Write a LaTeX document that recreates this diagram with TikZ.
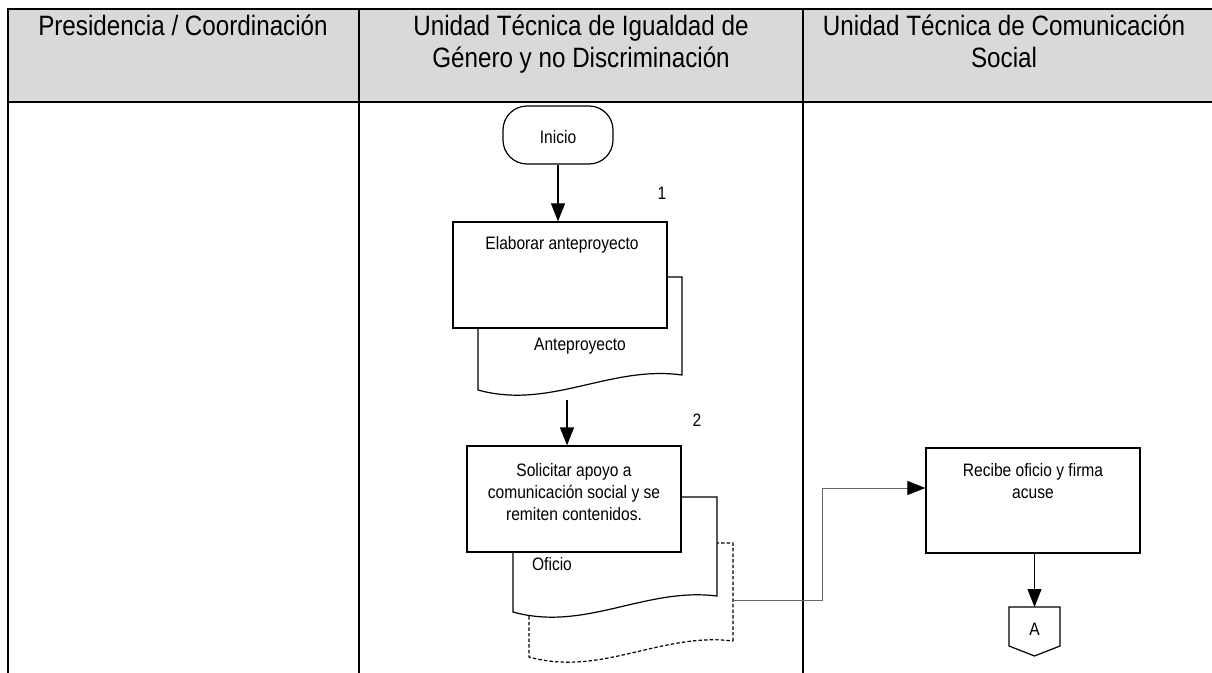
\documentclass[tikz,border=0pt]{standalone}
\usepackage{fontspec}
\setmainfont{Liberation Sans}[FakeStretch=0.865]
\usetikzlibrary{arrows.meta,fit}
\definecolor{hdrgray}{HTML}{D9D9D9}
\definecolor{linkgray}{HTML}{666666}
\begin{document}
\begin{tikzpicture}[x=0.75pt,y=-0.75pt,
  tbl/.style={line width=1.9pt},
  box/.style={draw=black,line width=0.9pt,fill=white,inner sep=0pt},
  doc/.style={draw=black,line width=0.9pt,fill=white},
  hdr/.style={font=\fontsize{21}{24}\selectfont,align=center,inner sep=0pt},
  txt/.style={font=\fontsize{13.5}{16.5}\selectfont,align=center,inner sep=0pt},
  arr/.style={line width=0.9pt,-{Triangle[width=10.5pt,length=13.5pt]}},
  link/.style={draw=linkgray,line width=0.7pt,-{Triangle[width=10.5pt,length=13.5pt,fill=black,color=black]}}]
\useasboundingbox (0,0) rectangle (1212,673);
% table
\fill[hdrgray] (8,9) rectangle (1212,102);
\draw[tbl] (8,673) -- (8,9) -- (1212,9);
\draw[tbl] (8,102) -- (1212,102);
\draw[tbl] (359,9) -- (359,673);
\draw[tbl] (803,9) -- (803,673);
\node[hdr,anchor=base] (h1) at (183,36) {Presidencia / Coordinación};
\node[hdr,anchor=base] (h2) at (581,68) {Unidad Técnica de Igualdad de\\Género y no Discriminación};
\node[hdr,anchor=base] (h3) at (1004,68) {Unidad Técnica de Comunicación\\Social};
% start
\node[box,rounded corners=18pt,fit={(503,106)(613,164)}] (ini) {};
\node[txt,anchor=base] (initxt) at (558,143.5) {Inicio};
% step 1
\draw[doc] (682,375) -- (682,277) -- (478,277) -- (478,390)
  .. controls (550,410) and (610,365) .. (682,375) -- cycle;
\node[txt,anchor=base] (d1txt) at (580,350) {Anteproyecto};
\node[box,fit={(453,222)(667,328)}] (b1) {};
\node[txt,anchor=base] (b1txt) at (562,250) {Elaborar anteproyecto};
\node[txt,anchor=base] (n1) at (662,200) {1};
\draw[arr] (ini.south) -- (ini.south |- b1.north);
% step 2
\draw[doc,dash pattern=on 2.6pt off 1.6pt] (733,641) -- (733,543) -- (529,543) -- (529,657)
  .. controls (601,677) and (661,632) .. (733,641) -- cycle;
\draw[doc] (717,596) -- (717,497) -- (513,497) -- (513,612)
  .. controls (585,632) and (645,587) .. (717,596) -- cycle;
\node[txt,anchor=base] (d2txt) at (552,570) {Oficio};
\node[box,fit={(467,446)(681,552)}] (b2) {};
\node[txt,anchor=base] (b2txt) at (574,520) {Solicitar apoyo a\\comunicación social y se\\remiten contenidos.};
\node[txt,anchor=base] (n2) at (697,426) {2};
\coordinate (d1b) at (567,400);
\draw[arr] (d1b) -- (d1b |- b2.north);
% step 3
\node[box,fit={(926,448)(1140,553)}] (b3) {};
\node[txt,anchor=base] (b3txt) at (1033,498) {Recibe oficio y firma\\acuse};
\coordinate (d3r) at (733,600);
\draw[link] (d3r) -- (822,600) -- (822,488) -- (b3.west |- 0,488);
% connector A
\draw[doc] (1009,607) -- (1060,607) -- (1060,646) -- (1034.5,656) -- (1009,646) -- cycle;
\coordinate (atop) at (1034.5,607);
\node[txt,anchor=base] (atxt) at (1034.5,635) {A};
\draw[arr] (b3.south -| atop) -- (atop);
\end{tikzpicture}
\end{document}
